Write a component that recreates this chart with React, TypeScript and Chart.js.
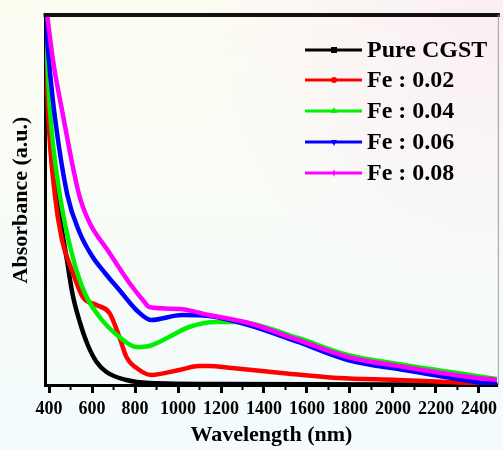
import { useEffect, useRef } from "react";
import { Chart, registerables } from "chart.js";

Chart.register(...registerables);

const FONT = "'Liberation Serif', 'Times New Roman', serif";

const SERIES_LABELS = ["Pure CGST", "Fe : 0.02", "Fe : 0.04", "Fe : 0.06", "Fe : 0.08"];
const SERIES_COLORS = ["#000000", "#ff0000", "#00f000", "#0000ff", "#ff00ff"];

const pureX = [381, 399, 436, 483, 510, 543, 580, 621, 667, 760, 866, 1200, 2000, 2488];
const pureY = [3.72, 2.75, 1.9, 1.25, 0.9, 0.63, 0.4, 0.23, 0.13, 0.05, 0.02, 0.01, 0.005, 0.0];

const fe02X = [381, 395, 427, 460, 506, 557, 621, 681, 727, 760, 820, 875, 1005, 1097, 1143, 1250, 1481, 1744, 2021, 2252, 2483];
const fe02Y = [3.72, 2.75, 1.9, 1.45, 1.15, 0.88, 0.8, 0.72, 0.48, 0.28, 0.15, 0.1, 0.15, 0.19, 0.19, 0.17, 0.12, 0.07, 0.05, 0.03, 0.01];

const fe04X = [381, 404, 450, 510, 566, 635, 727, 806, 866, 958, 1051, 1176, 1250, 1328, 1559, 1790, 2053, 2358, 2483];
const fe04Y = [3.72, 2.75, 1.9, 1.28, 0.92, 0.68, 0.48, 0.38, 0.39, 0.48, 0.58, 0.63, 0.63, 0.62, 0.47, 0.3, 0.2, 0.1, 0.06];

const fe06X = [381, 399, 423, 485, 543, 600, 660, 727, 806, 875, 1019, 1143, 1328, 1559, 1790, 2053, 2358, 2430, 2483];
const fe06Y = [3.72, 3.25, 2.75, 1.9, 1.52, 1.29, 1.12, 0.95, 0.75, 0.65, 0.7, 0.69, 0.6, 0.43, 0.25, 0.15, 0.04, 0.02, 0.02];

const fe08X = [390, 418, 460, 540, 589, 672, 774, 840, 866, 1005, 1143, 1328, 1559, 1790, 2053, 2358, 2483];
const fe08Y = [3.72, 3.25, 2.75, 1.9, 1.62, 1.35, 1.02, 0.84, 0.78, 0.76, 0.7, 0.62, 0.45, 0.28, 0.18, 0.08, 0.05];

const X_TICKS = [400, 600, 800, 1000, 1200, 1400, 1600, 1800, 2000, 2200, 2400];
const X_MINOR_TICKS = [500, 700, 900, 1100, 1300, 1500, 1700, 1900, 2100, 2300];

const SERIES_X = [pureX, fe02X, fe04X, fe06X, fe08X];
const SERIES_Y = [pureY, fe02Y, fe04Y, fe06Y, fe08Y];
const MARKERS = ["square", "circle", "triangle", "downTriangle", "star"];

const backgroundPlugin = {
  id: "bg",
  beforeDraw(chart: any) {
    const { ctx, width, height } = chart;
    ctx.save();
    const g = ctx.createLinearGradient(0, 0, 0, height);
    g.addColorStop(0, "#fdfdf2");
    g.addColorStop(1, "#f3fbfd");
    ctx.fillStyle = g;
    ctx.fillRect(0, 0, width, height);
    const r = ctx.createRadialGradient(width, 0, 0, width, 0, 320);
    r.addColorStop(0, "rgba(249,228,246,0.6)");
    r.addColorStop(1, "rgba(249,228,246,0)");
    ctx.fillStyle = r;
    ctx.fillRect(0, 0, width, height);
    ctx.restore();
  },
};

function drawMarker(ctx: CanvasRenderingContext2D, kind: string, x: number, y: number, color: string) {
  ctx.fillStyle = color;
  ctx.beginPath();
  const s = 3;
  if (kind === "square") ctx.rect(x - s, y - s, 2 * s, 2 * s);
  else if (kind === "circle") ctx.arc(x, y, s, 0, Math.PI * 2);
  else if (kind === "triangle") { ctx.moveTo(x, y - s - 1); ctx.lineTo(x + s, y + s - 1); ctx.lineTo(x - s, y + s - 1); ctx.closePath(); }
  else if (kind === "downTriangle") { ctx.moveTo(x, y + s + 1); ctx.lineTo(x + s, y - s + 1); ctx.lineTo(x - s, y - s + 1); ctx.closePath(); }
  else { ctx.moveTo(x, y - s - 1); ctx.lineTo(x + 1, y - 1); ctx.lineTo(x + s, y); ctx.lineTo(x + 1, y + 1); ctx.lineTo(x, y + s + 1); ctx.lineTo(x - 1, y + 1); ctx.lineTo(x - s, y); ctx.lineTo(x - 1, y - 1); ctx.closePath(); }
  ctx.fill();
}

const framePlugin = {
  id: "frame",
  afterDraw(chart: any) {
    const { ctx, chartArea } = chart;
    const xs = chart.scales.x;
    ctx.save();
    ctx.strokeStyle = "#111";
    ctx.lineWidth = 4;
    ctx.beginPath();
    ctx.moveTo(chartArea.left - 1.5, chartArea.top);
    ctx.lineTo(chartArea.right + 2, chartArea.top);
    ctx.stroke();
    ctx.strokeStyle = "#9a9a9a";
    ctx.lineWidth = 1;
    ctx.beginPath();
    ctx.moveTo(chartArea.right + 0.5, chartArea.top);
    ctx.lineTo(chartArea.right + 0.5, chartArea.bottom);
    ctx.stroke();
    ctx.strokeStyle = "#000";
    ctx.lineWidth = 2;
    for (const v of X_MINOR_TICKS) {
      const px = xs.getPixelForValue(v);
      ctx.beginPath();
      ctx.moveTo(px, chartArea.bottom);
      ctx.lineTo(px, chartArea.bottom + 5);
      ctx.stroke();
    }
    const rows = [50, 80, 111, 142, 173];
    chart.data.datasets.forEach((ds: any, i: number) => {
      const y = rows[i];
      ctx.strokeStyle = ds.borderColor;
      ctx.lineWidth = 3;
      ctx.beginPath();
      ctx.moveTo(305, y);
      ctx.lineTo(362, y);
      ctx.stroke();
      drawMarker(ctx, MARKERS[i], 334, y, ds.borderColor);
      ctx.fillStyle = "#000";
      ctx.font = `bold 24px ${FONT}`;
      ctx.textBaseline = "middle";
      ctx.textAlign = "left";
      ctx.fillText(ds.label, 367, y + 1);
    });
    ctx.restore();
  },
};

export default function App() {
  const ref = useRef<HTMLCanvasElement>(null);
  useEffect(() => {
    document.body.style.margin = "0";
    const canvas = ref.current!;
    const datasets = SERIES_LABELS.map((label, i) => ({
      label,
      data: SERIES_X[i].map((x, j) => ({ x, y: SERIES_Y[i][j] })),
      borderColor: SERIES_COLORS[i],
      backgroundColor: SERIES_COLORS[i],
      borderWidth: 4.5,
      pointRadius: 0,
      fill: false,
      cubicInterpolationMode: "monotone" as const,
      order: 5 - i,
    }));
    const chart = new Chart(canvas, {
      type: "line",
      data: { datasets },
      options: {
        responsive: false,
        animation: false,
        layout: { padding: { top: 15, right: 2, left: 0, bottom: 0 } },
        plugins: { legend: { display: false }, tooltip: { enabled: false } },
        scales: {
          x: {
            type: "linear",
            min: 381,
            max: 2488,
            afterBuildTicks: (s: any) => {
              s.ticks = X_TICKS.map((v) => ({ value: v }));
            },
            afterFit: (s: any) => {
              s.height = 65;
            },
            grid: { display: true, drawOnChartArea: false, drawTicks: true, tickLength: 8, tickWidth: 3, tickColor: "#000" },
            border: { display: true, color: "#000", width: 3 },
            ticks: {
              color: "#000",
              font: { family: FONT, size: 18, weight: "bold" },
              padding: 6,
              maxRotation: 0,
              autoSkip: false,
              callback: (v: any) => String(v),
            },
            title: {
              display: true,
              text: "Wavelength (nm)",
              color: "#000",
              font: { family: FONT, size: 22, weight: "bold" },
              padding: { top: 0, bottom: 1 },
            },
          },
          y: {
            min: 0,
            max: 3.7,
            afterFit: (s: any) => {
              s.width = 45;
            },
            grid: { display: false },
            border: { display: true, color: "#000", width: 3 },
            ticks: { display: false },
            title: {
              display: true,
              text: "Absorbance (a.u.)",
              color: "#000",
              font: { family: FONT, size: 22, weight: "bold" },
              padding: { top: 8, bottom: 0 },
            },
          },
        },
      },
      plugins: [backgroundPlugin, framePlugin],
    });
    return () => chart.destroy();
  }, []);
  return <canvas ref={ref} width={503} height={450} style={{ display: "block" }} />;
}
